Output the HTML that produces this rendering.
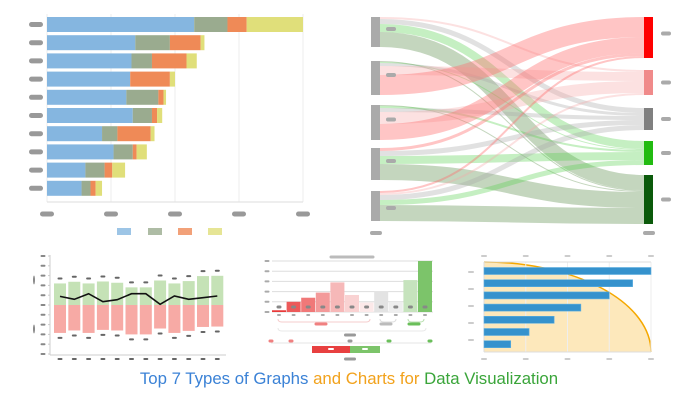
<!DOCTYPE html>
<html><head><meta charset="utf-8"><style>
html,body{margin:0;padding:0;background:#fff;width:698px;height:400px;overflow:hidden}
svg{position:absolute;left:0;top:0}
.title{position:absolute;left:0;top:369px;width:698px;text-align:center;font:16.8px "Liberation Sans",sans-serif;white-space:nowrap}
</style></head><body>
<svg id="s" width="698" height="400"></svg>
<div class="title"><span style="color:#3b82d6">Top 7 Types of Graphs </span><span style="color:#f2a21c">and Charts for </span><span style="color:#3aa53a">Data Visualization</span></div>
<script>
// ---- chart 1: stacked horizontal bars
const c1Rows = [0,1,2,3,4,5,6,7,8,9];
const c1Blue = [115,69,66,65,62,67,43,52,30,27];
const c1Green = [26,27,16,0,25,15,12,15,15,7];
const c1Orange = [15,24,27,31,4,4,26,3,6,4];
const c1Yellow = [44,3,8,4,2,4,3,8,10,5];
const c1Ticks = [0,50,100,150,200];
// ---- chart 2: sankey links [source,target,value]
const skLinks = [[0,1,2],[0,2,5],[0,3,8],[0,4,15],[1,4,1],[1,3,1],[1,2,3],[1,1,9],[1,0,20],[2,4,1],[2,3,2],[2,2,4],[2,1,12],[2,0,16],[3,0,3],[3,2,5],[3,3,8],[3,4,16],[4,0,2],[4,1,2],[4,2,5],[4,3,5],[4,4,16]];
// ---- chart 3: diverging bars + line
const c3Pos = [2.2,2.37,2.2,2.4,2.27,1.8,1.8,2.5,2.2,2.44,2.95,2.98];
const c3Neg = [-2.85,-2.6,-2.85,-2.54,-2.6,-3.0,-3.0,-2.4,-2.85,-2.64,-2.24,-2.2];
const c3Line = [0.88,0.58,1.15,0.34,0.54,1.15,1.15,0.07,0.92,0.58,0.75,0.92];
const c3Ticks = [-5,-4,-3,-2,-1,0,1,2,3,4,5];
// ---- chart 4: histogram
const c4Vals = [0.17,1,1.4,1.9,2.9,1.67,0.93,2,0.93,3.13,5];
const c4Ticks = [0,1,2,3,4,5];
// ---- chart 5: bars with quarter arc
const c5Vals = [100,89,75,58,42,27,16];
const c5Ticks = [0,25,50,75,100];

const NS='http://www.w3.org/2000/svg', S=document.getElementById('s');
function mk(tag,at,name,par){const e=document.createElementNS(NS,tag);for(const k in at)e.setAttribute(k,at[k]);


(par||S).appendChild(e);return e;}
function pill(cx,cy,w,h,fill,name){return mk('rect',{x:cx-w/2,y:cy-h/2,width:w,height:h,rx:h/2,fill:fill},name);}

// chart 1
(function(){
 const x=v=>47+v*256/200, yTop=i=>17+i*18.2, bh=15;
 c1Ticks.forEach(t=>{mk('line',{x1:x(t),x2:x(t),y1:14,y2:202,stroke:'#eee'},'c1-grid');pill(x(t),214,14,5,'#999','c1-x-tick-label');});
 mk('line',{x1:47,x2:303,y1:202,y2:202,stroke:'#ddd'},'c1-x-axis');
 const ser=[[c1Blue,'#85b6e0'],[c1Green,'#9aab8f'],[c1Orange,'#ef8a57'],[c1Yellow,'#e0df7a']];
 c1Rows.forEach(i=>{let acc=0;pill(36,yTop(i)+bh/2,14,5,'#999','c1-y-label');
  ser.forEach(([arr,col])=>{const v=arr[i];if(v>0)mk('rect',{x:x(acc),y:yTop(i),width:x(acc+v)-x(acc),height:bh,fill:col},'c1-bar-segment');acc+=v;});});
 [117,148,178,208].forEach((lx,k)=>mk('rect',{x:lx,y:228,width:14,height:7,fill:ser[k][1],opacity:0.8},'c1-legend-swatch'));
})();

// chart 2 sankey
(function(){
 const lTop=[17,61,105,148,191], rTop=[17,70,108,141,175];
 const rCol=['#ff0000','#f08a8a','#808080','#22bb11','#0b5a0b'];
 const lCol=['rgba(255,110,110,0.4)','rgba(245,170,170,0.35)','rgba(170,170,170,0.35)','rgba(90,210,80,0.35)','rgba(60,120,40,0.3)'];
 const lSum=[0,0,0,0,0], rSum=[0,0,0,0,0];
 skLinks.forEach(l=>{lSum[l[0]]+=l[2];rSum[l[1]]+=l[2];});
 const lOff=[0,0,0,0,0], rOff=[0,0,0,0,0];
 const x0=380,x1=644,xm=(x0+x1)/2;
 const sorted=skLinks.slice().sort((a,b)=>a[0]-b[0]);
 const tOff={};sorted.forEach(l=>{tOff[l]=rOff[l[1]];rOff[l[1]]+=l[2];});
 skLinks.forEach(l=>{const v=l[2];const ys=lTop[l[0]]+lOff[l[0]]+v/2;lOff[l[0]]+=v;const yt=rTop[l[1]]+tOff[l]+v/2;
  mk('path',{d:`M${x0},${ys}C${xm},${ys} ${xm},${yt} ${x1},${yt}`,fill:'none',stroke:lCol[l[1]],'stroke-width':v},'sankey-link');});
 lTop.forEach((t,i)=>{mk('rect',{x:371,y:t,width:9,height:lSum[i],fill:'#aaa'},'sankey-source-node');pill(391,t+lSum[i]/2-(i==4?-2:3),10,4,'#aaa','sankey-source-label');});
 pill(376,233,12,4,'#aaa','sankey-footer-label');
 rTop.forEach((t,i)=>{mk('rect',{x:644,y:t,width:9,height:rSum[i],fill:rCol[i]},'sankey-target-node');pill(666,t+rSum[i]/2-(i==0?4:0),10,4,'#aaa','sankey-target-label');});
 pill(649,233,12,4,'#aaa','sankey-footer-label');
})();

// chart 3
(function(){
 const y=v=>305-v*9.8, xc=i=>60+i*14.3, bw=12;
 c3Ticks.forEach(t=>{mk('line',{x1:48,x2:50,y1:y(t),y2:y(t),stroke:'#ccc'},'c3-y-tick');pill(43,y(t),5,2,'#888','c3-y-tick-label');});
 mk('line',{x1:50,x2:50,y1:255,y2:355,stroke:'#ccc'},'c3-y-axis');
 mk('line',{x1:50,x2:226,y1:355,y2:355,stroke:'#ccc'},'c3-x-axis');
 pill(34,280,2,9,'#888','c3-y-title-top');pill(34,329,2,9,'#888','c3-y-title-bottom');
 c3Pos.forEach((v,i)=>{mk('rect',{x:xc(i)-bw/2,y:y(v),width:bw,height:y(0)-y(v),fill:'#c5e2b6'},'c3-positive-bar');pill(xc(i),y(v)-5,5,2,'#666','c3-positive-value');
  pill(xc(i),359,5,2,'#666','c3-x-tick-label');});
 c3Neg.forEach((v,i)=>{mk('rect',{x:xc(i)-bw/2,y:y(0),width:bw,height:y(v)-y(0),fill:'#f7aaa5'},'c3-negative-bar');pill(xc(i),y(v)+5,5,2,'#666','c3-negative-value');});
 mk('polyline',{points:c3Line.map((v,i)=>xc(i)+','+y(v)).join(' '),fill:'none',stroke:'#111','stroke-width':1.6},'c3-line');
})();

// chart 4
(function(){
 const y=v=>312-v*10.2, xl=i=>272+i*14.6, bw=14;
 const cols=['#e83a3a','#ec5a5a','#f07878','#f39a9a','#f6b8b8','#f9d2d2','#fce9e9','#e3e3e3','#eeeeee','#c6e3bd','#7cc46a'];
 c4Ticks.forEach(t=>{mk('line',{x1:272,x2:433,y1:y(t),y2:y(t),stroke:'#ddd'},'c4-grid');pill(267,y(t),5,2,'#aaa','c4-y-tick-label');});
 pill(352,257,45,3,'#bbb','c4-title');
 c4Vals.forEach((v,i)=>{mk('rect',{x:xl(i),y:y(v),width:bw,height:y(0)-y(v),fill:cols[i]},'c4-bar');pill(xl(i)+bw/2,307,5,3,'#888','c4-bar-label');pill(xl(i)+bw/2,315,4,2,'#aaa','c4-x-tick-label');});
 mk('path',{d:'M278,319 q0,3 4,3 h84 q4,0 4,-3',fill:'none',stroke:'#f5cccc'},'c4-bracket-red');
 mk('path',{d:'M380,319 q0,3 4,3 h8 q4,0 4,-3',fill:'none',stroke:'#ddd'},'c4-bracket-gray');
 mk('path',{d:'M408,319 q0,3 4,3 h8 q4,0 4,-3',fill:'none',stroke:'#b9dfb0'},'c4-bracket-green');
 pill(321,324,13,3,'#f08080','c4-group-label-neg');pill(386,324,13,3,'#bbb','c4-group-label-neutral');pill(414,324,13,3,'#6abf5a','c4-group-label-pos');
 mk('path',{d:'M278,328 q0,3 4,3 h140 q4,0 4,-3',fill:'none',stroke:'#e8e8e8'},'c4-bracket-all');
 pill(350,335,12,3,'#999','c4-total-label');
 mk('line',{x1:271,x2:431,y1:343,y2:343,stroke:'#e6e6e6'},'c4-scale-line');
 [[271,'#f08080'],[291,'#f08080'],[350,'#999'],[389,'#6abf5a'],[430,'#6abf5a']].forEach(p=>pill(p[0],341,5,3,p[1],'c4-scale-label'));
 mk('rect',{x:312,y:346,width:38,height:7,fill:'#e84040'},'c4-neg-summary-bar');
 mk('rect',{x:350,y:346,width:30,height:7,fill:'#7cc46a'},'c4-pos-summary-bar');
 pill(331,349,6,2,'#fff','c4-neg-summary-label');pill(365,349,6,2,'#fff','c4-pos-summary-label');
 pill(350,359,12,3,'#999','c4-summary-title');
})();

// chart 5
(function(){
 const x=v=>484+v*1.67, yc=i=>271+i*12.2, bh=7;
 mk('path',{d:'M484,262 A167,90 0 0 1 651,352 L484,352 Z',fill:'#fde8bb',stroke:'none'},'c5-area');
 mk('path',{d:'M484,262 A167,90 0 0 1 651,352',fill:'none',stroke:'#f5a800','stroke-width':1.5},'c5-arc');
 c5Ticks.forEach(t=>{mk('line',{x1:x(t),x2:x(t),y1:262,y2:352,stroke:'#eee'},'c5-grid');pill(x(t),256,6,2,'#ccc','c5-top-tick-label');pill(x(t),359,6,2,'#ccc','c5-bottom-tick-label');});
 mk('line',{x1:484,x2:651,y1:262,y2:262,stroke:'#ddd'},'c5-top-axis');
 mk('line',{x1:484,x2:651,y1:352,y2:352,stroke:'#ddd'},'c5-bottom-axis');
 mk('line',{x1:484,x2:484,y1:262,y2:352,stroke:'#ddd'},'c5-y-axis');
 [272,289,306,323,340].forEach(py=>pill(471,py,6,2,'#ccc','c5-y-label'));
 c5Vals.forEach((v,i)=>mk('rect',{x:484,y:yc(i)-bh/2,width:x(v)-484,height:bh,fill:'#3592cd',stroke:'#5fb0e0','stroke-width':0.6},'c5-bar'));
})();
</script>
</body></html>
